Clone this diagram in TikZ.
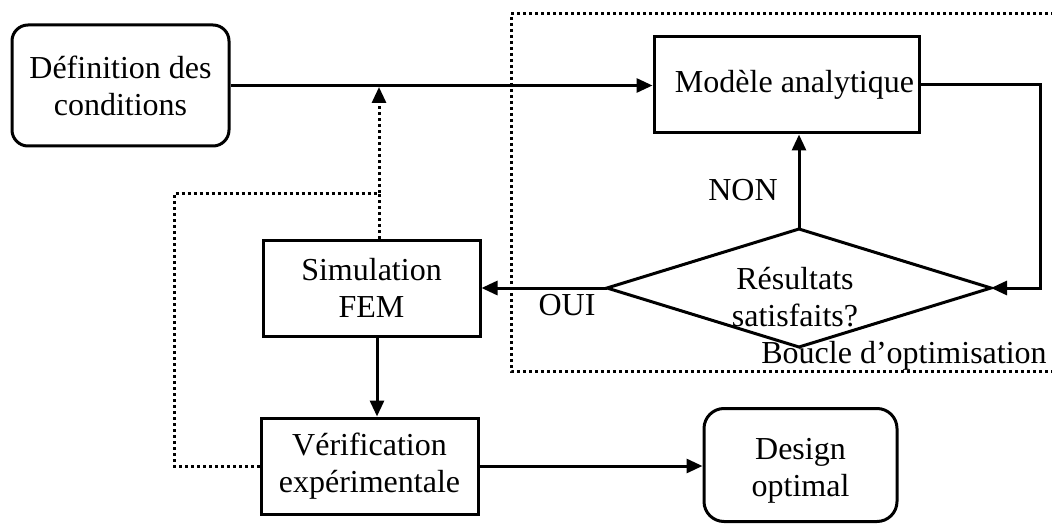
\documentclass[tikz,border=0pt]{standalone}
\usepackage{fontspec}
\setmainfont{Liberation Serif}
\usetikzlibrary{arrows.meta}
\begin{document}
\begin{tikzpicture}[x=1pt,y=-1pt,
  font=\fontsize{32}{37}\selectfont,
  box/.style={draw,line width=3pt,inner sep=0pt,align=center},
  rbox/.style={box,rounded corners=16pt},
  conn/.style={line width=3pt,-{Triangle[length=16pt,width=14pt]}},
  plain/.style={line width=3pt},
  dotline/.style={line width=3pt,dash pattern=on 3pt off 3pt},
  lbl/.style={inner sep=0pt,anchor=base}]
\useasboundingbox (0,0) rectangle (1052,524);
% optimisation loop frame (right side outside the picture)
\draw[dotline] (1060,14) -- (511,14) -- (511,371) -- (1060,371);
% nodes
\node[rbox,minimum width=217pt,minimum height=121pt] (def) at (120.5,85.5) {Définition des\\conditions};
\node[box,minimum width=265pt,minimum height=96pt] (mod) at (786.5,85) {\hspace*{16pt}Modèle analytique};
\node[box,minimum width=217pt,minimum height=96pt] (sim) at (371.5,288) {Simulation\\FEM};
\node[box,minimum width=217pt,minimum height=96pt] (ver) at (369.5,466) {Vérification\\expérimentale};
\node[rbox,rounded corners=20pt,minimum width=193pt,minimum height=113pt] (des) at (800.5,465) {\rule{0pt}{32pt}Design\\optimal};
% decision diamond
\coordinate (dl) at (607,288);
\coordinate (dt) at (799,229);
\coordinate (dr) at (991,288);
\coordinate (db) at (799,347);
\draw[plain,line join=miter] (dl) -- (dt) -- (dr) -- (db) -- cycle;
\node[inner sep=0pt,align=center] (dtext) at (795,297) {Résultats\\satisfaits?};
% labels
\node[lbl] (non) at (743,200) {NON};
\node[lbl] (oui) at (567,315) {OUI};
\node[lbl] (boucle) at (904,363) {Boucle d’optimisation};
% coordinates for routing
\coordinate (fb) at (379,193);
\coordinate (fbtip) at (379,87);
\coordinate (ll) at (174,193);
\coordinate (rl) at (1040,85);
% connectors
\draw[conn] (def.east) -- (def.east -| mod.west);
\draw[conn] (dt) -- (dt |- mod.south);
\draw[conn] (mod.east) -- (rl) -- (rl |- dr) -- (dr);
\draw[conn] (dl) -- (dl -| sim.east);
\draw[conn] (sim.south -| 377,0) -- (ver.north -| 377,0);
\draw[conn] (ver.east) -- (ver.east -| des.west);
% dotted feedback
\draw[dotline] (ver.west) -- (ver.west -| ll) -- (ll) -- (fb);
\draw[dotline] (sim.north -| fb) -- (fb);
\draw[line width=3pt,dash pattern=on 3pt off 3pt,-{Triangle[length=16pt,width=14pt]}] (fb) -- (fbtip);
\end{tikzpicture}
\end{document}
